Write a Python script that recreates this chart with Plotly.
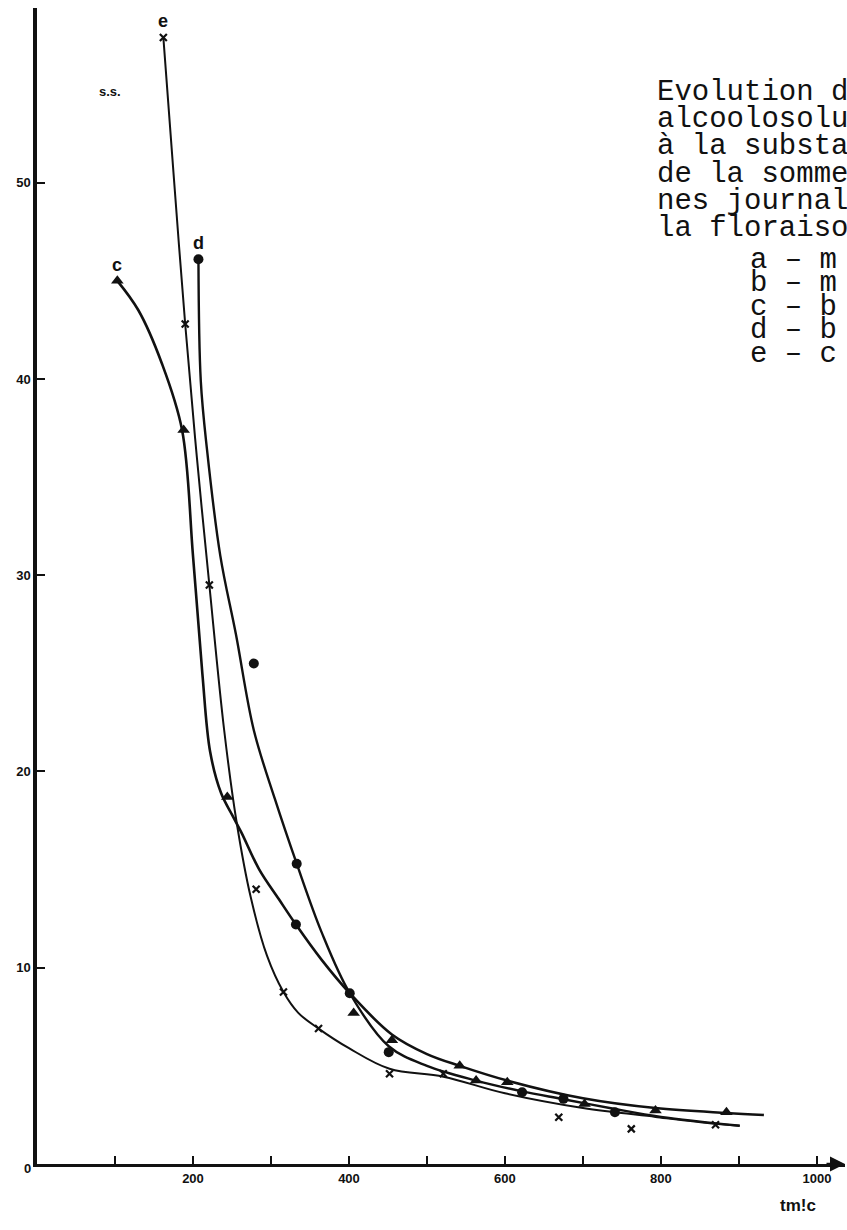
import plotly.graph_objects as go

# ---- marker data: (tm°C, s.s.) ----
tri_x = [103, 188, 244, 406, 455, 542, 563, 603, 702, 793, 884]
tri_y = [45.0, 37.4, 18.7, 7.7, 6.3, 5.0, 4.25, 4.17, 3.06, 2.72, 2.64]

dot_x = [207, 278, 333, 332, 401, 451, 622, 675, 741]
dot_y = [46.1, 25.5, 15.3, 12.2, 8.7, 5.7, 3.66, 3.32, 2.64]

cross_x = [162, 190, 221, 281, 316, 361, 452, 521, 669, 762, 870]
cross_y = [57.4, 42.8, 29.5, 14.0, 8.76, 6.9, 4.6, 4.6, 2.38, 1.79, 2.0]

# ---- hand-fitted curves ----
c_x = [103, 130, 160, 186, 200, 212, 222, 236, 250, 262, 285, 310, 332, 365, 401, 455, 500, 542, 603, 700, 793, 884, 932]
c_y = [45.0, 43.5, 40.8, 37.4, 31.0, 25.0, 21.0, 18.9, 17.8, 16.9, 15.0, 13.5, 12.2, 10.4, 8.7, 6.6, 5.6, 5.0, 4.25, 3.35, 2.85, 2.6, 2.5]

d_x = [207, 210, 218, 235, 255, 278, 305, 333, 365, 401, 451, 500, 563, 622, 675, 741, 800, 901]
d_y = [46.1, 39.9, 36.4, 31.0, 27.0, 22.1, 18.6, 15.3, 11.8, 8.7, 6.0, 5.0, 4.25, 3.7, 3.3, 2.8, 2.4, 1.95]

e_x = [162, 175, 190, 205, 221, 240, 256, 274, 295, 316, 335, 361, 400, 452, 521, 600, 700, 793, 870, 901]
e_y = [57.4, 50.5, 42.8, 36.0, 29.5, 22.1, 17.4, 13.6, 10.6, 8.76, 7.7, 6.9, 5.9, 4.85, 4.45, 3.6, 2.85, 2.4, 2.05, 1.95]

y_ticks = [10, 20, 30, 40, 50]
x_ticks = [100, 200, 300, 400, 500, 600, 700, 800, 900, 1000]
x_tick_text = ["", "200", "", "400", "", "600", "", "800", "", "1000"]

caption = ["Evolution des", "alcoolosolubles", "à la substance", "de la somme des",
           "nes journalières", "la floraison"]
legend_lines = ["a – m", "b – m", "c – b", "d – b", "e – c"]

INK = "#111111"
W, H = 847, 1230
M_L, M_R, M_T, M_B = 37, 2, 8, 66
X_MAX, Y_MAX = 1036, 58.9
PW, PH = W - M_L - M_R, H - M_T - M_B


def paper_x(px):
    return (px - M_L) / PW


def paper_y(py):
    return 1 - (py - M_T) / PH


fig = go.Figure()

for cx, cy, w in [(c_x, c_y, 2.6), (d_x, d_y, 2.4), (e_x, e_y, 2.0)]:
    fig.add_trace(go.Scatter(x=cx, y=cy, mode="lines",
                             line=dict(color=INK, width=w, shape="spline", smoothing=1.0),
                             hoverinfo="skip", showlegend=False))

fig.add_trace(go.Scatter(x=tri_x, y=tri_y, mode="markers",
                         marker=dict(symbol="triangle-up", size=11, color=INK),
                         showlegend=False))
fig.add_trace(go.Scatter(x=dot_x, y=dot_y, mode="markers",
                         marker=dict(symbol="circle", size=10, color=INK),
                         showlegend=False))
fig.add_trace(go.Scatter(x=cross_x, y=cross_y, mode="markers",
                         marker=dict(symbol="x-thin", size=7, color=INK,
                                     line=dict(width=2.2, color=INK)),
                         showlegend=False))

# curve letters above the first point of each curve
for txt, xv, yv in [("c", c_x[0], c_y[0]), ("d", d_x[0], d_y[0]), ("e", e_x[0], e_y[0])]:
    fig.add_annotation(x=xv, y=yv, text=f"<b>{txt}</b>", showarrow=False,
                       yshift=16, font=dict(family="Liberation Sans", size=18, color=INK))

fig.add_annotation(x=paper_x(97), y=paper_y(82), xref="paper", yref="paper",
                   text="<b>s.s.</b>", showarrow=False,
                   font=dict(family="Liberation Sans", size=13, color=INK))

# origin label, set just below-left of the corner
fig.add_annotation(x=paper_x(22), y=paper_y(1178), xref="paper", yref="paper",
                   text="<b>0</b>", showarrow=False,
                   font=dict(family="Liberation Sans", size=13, color=INK))

fig.add_annotation(x=paper_x(818), y=paper_y(1217), xref="paper", yref="paper",
                   text="<b>tm!c</b>", showarrow=False,
                   font=dict(family="Liberation Sans", size=17, color=INK))

# arrowhead at the end of the x axis
fig.add_annotation(x=1.0, y=0, xref="paper", yref="paper", ax=-20, ay=0,
                   text="", showarrow=True, arrowhead=2, arrowsize=1.2,
                   arrowwidth=2.5, arrowcolor=INK)

# typewritten caption and key
mono = dict(family="Liberation Mono", size=29, color=INK)
for i, line in enumerate(caption):
    fig.add_annotation(x=paper_x(655), y=paper_y(92 + 27.4 * i), xref="paper", yref="paper",
                       text=line, showarrow=False, xanchor="left", yanchor="middle",
                       font=mono)
for i, line in enumerate(legend_lines):
    fig.add_annotation(x=paper_x(748), y=paper_y(260 + 23.5 * i), xref="paper", yref="paper",
                       text=line, showarrow=False, xanchor="left", yanchor="middle",
                       font=mono)

tick_font = dict(family="Liberation Sans", size=13, color=INK)
fig.update_layout(
    width=W, height=H,
    margin=dict(l=M_L, r=M_R, t=M_T, b=M_B),
    paper_bgcolor="white", plot_bgcolor="white",
    xaxis=dict(range=[0, X_MAX], showgrid=False, zeroline=False,
               showline=True, linecolor=INK, linewidth=3,
               tickmode="array", tickvals=x_ticks,
               ticktext=[f"<b>{t}</b>" if t else "" for t in x_tick_text],
               ticks="inside", ticklen=8, tickwidth=1.5, tickcolor=INK,
               tickfont=tick_font),
    yaxis=dict(range=[0, Y_MAX], showgrid=False, zeroline=False,
               showline=True, linecolor=INK, linewidth=3.5,
               tickmode="array", tickvals=y_ticks,
               ticktext=[f"<b>{v}</b>" for v in y_ticks],
               ticks="inside", ticklen=8, tickwidth=2, tickcolor=INK,
               tickfont=tick_font),
)

fig.write_html("out.html")
